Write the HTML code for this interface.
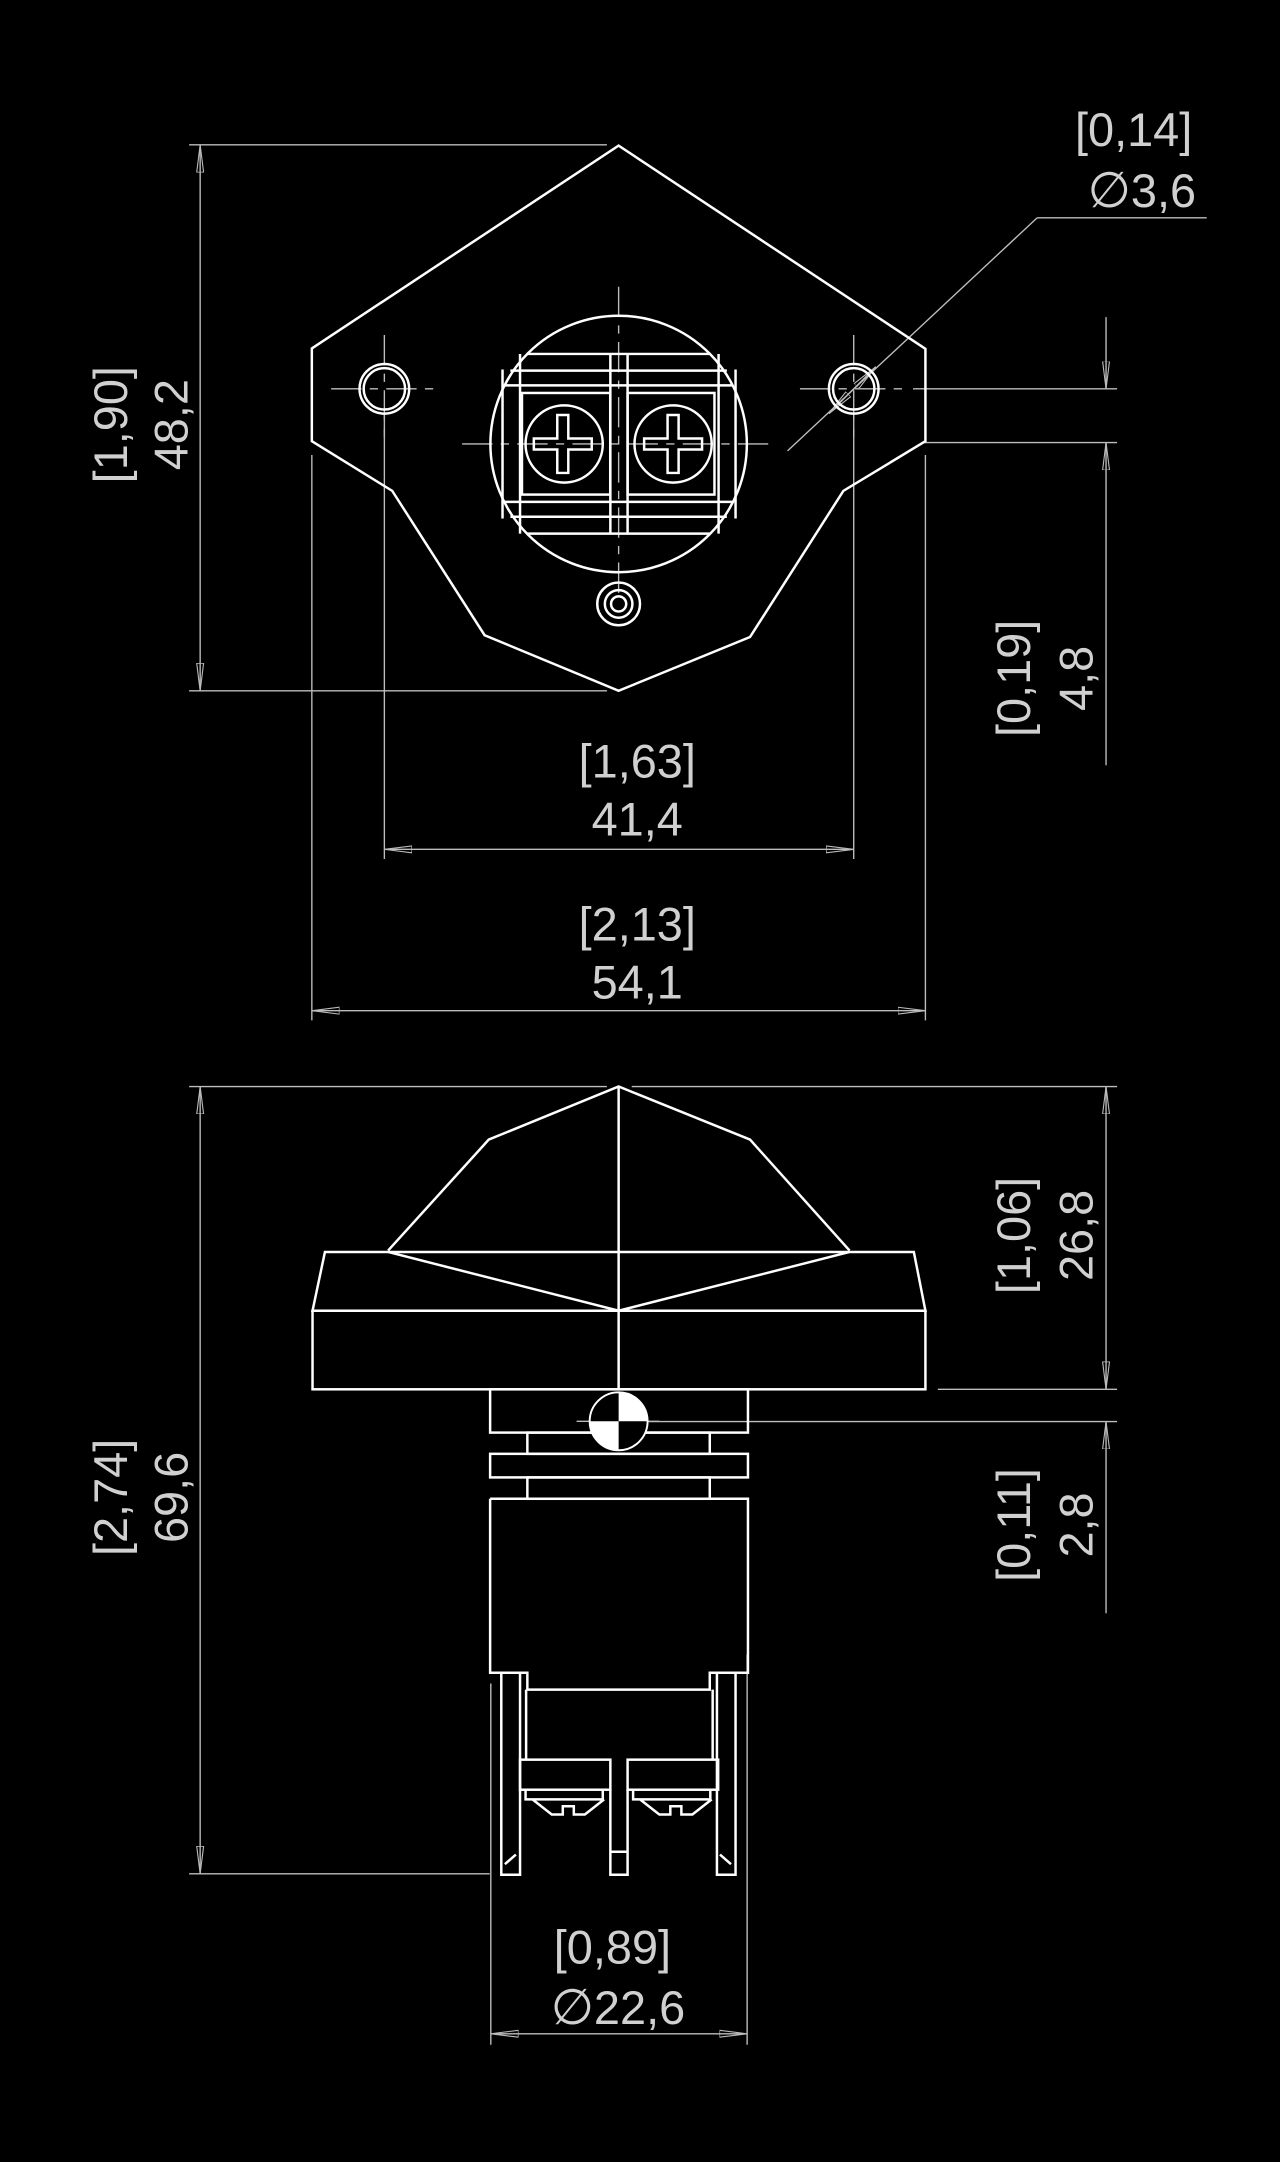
<!DOCTYPE html>
<html><head><meta charset="utf-8"><style>
html,body{margin:0;padding:0;background:#000;}
svg{display:block;}
text{font-family:"Liberation Sans","DejaVu Sans",sans-serif;fill:#d0d0d0;font-size:34px;}
</style></head><body>
<svg width="1280" height="2162" viewBox="0 0 928 1568" xmlns="http://www.w3.org/2000/svg">
<defs>
<marker id="a" viewBox="0 0 20 6" refX="20" refY="3" markerWidth="20" markerHeight="6" markerUnits="userSpaceOnUse" orient="auto-start-reverse">
<path d="M0,0.5 L20,3 L0,5.5 Z" fill="none" stroke="#bbb" stroke-width="0.8"/>
</marker>
</defs>
<rect width="928" height="1568" fill="#000"/>

<!-- ================= TOP VIEW ================= -->
<g stroke="#bdbdbd" stroke-width="1" fill="none">
 <line x1="137" y1="105" x2="440" y2="105"/>
 <line x1="137" y1="501" x2="440" y2="501"/>
 <line x1="145" y1="105" x2="145" y2="501" marker-start="url(#a)" marker-end="url(#a)"/>
 <line x1="226" y1="330" x2="226" y2="740"/>
 <line x1="671" y1="330" x2="671" y2="740"/>
 <line x1="226" y1="733" x2="671" y2="733" marker-start="url(#a)" marker-end="url(#a)"/>
 <line x1="278.6" y1="300" x2="278.6" y2="623"/>
 <line x1="619" y1="300" x2="619" y2="623"/>
 <line x1="278.6" y1="616" x2="619" y2="616" marker-start="url(#a)" marker-end="url(#a)"/>
 <line x1="662" y1="282" x2="810" y2="282"/>
 <line x1="670" y1="321" x2="810" y2="321"/>
 <line x1="802" y1="230" x2="802" y2="282" marker-end="url(#a)"/>
 <line x1="802" y1="555" x2="802" y2="321" marker-end="url(#a)"/>
 <line x1="571" y1="327" x2="752" y2="158"/>
 <line x1="752" y1="158" x2="875" y2="158"/>
 <line x1="601" y1="300" x2="635" y2="266" marker-start="url(#a)" marker-end="url(#a)"/>
 <g stroke-dasharray="22,6,6,6">
  <line x1="240" y1="282" x2="318" y2="282"/>
  <line x1="278.6" y1="243" x2="278.6" y2="321"/>
  <line x1="580" y1="282" x2="658" y2="282"/>
  <line x1="619" y1="243" x2="619" y2="321"/>
  <line x1="335" y1="322" x2="562" y2="322"/>
  <line x1="448.5" y1="208" x2="448.5" y2="435"/>
 </g>
</g>
<g stroke="#fff" stroke-width="1.8" fill="none">
 <polygon points="448.5,105.6 671,253 671,320 611.5,356 543.8,462 448.5,501 351.3,460.7 284.3,356 226,320 226,252.7"/>
 <circle cx="278.6" cy="282" r="18"/>
 <circle cx="278.6" cy="282" r="15"/>
 <circle cx="619" cy="282" r="18"/>
 <circle cx="619" cy="282" r="15"/>
 <circle cx="448.5" cy="322" r="93"/>
 <line x1="382" y1="256.7" x2="515" y2="256.7"/>
 <line x1="370" y1="268.8" x2="527" y2="268.8"/>
 <line x1="366" y1="279.5" x2="531" y2="279.5"/>
 <line x1="366" y1="364" x2="531" y2="364"/>
 <line x1="370" y1="374.8" x2="527" y2="374.8"/>
 <line x1="382" y1="387" x2="515" y2="387"/>
 <line x1="377" y1="256.7" x2="377" y2="387"/>
 <line x1="521" y1="256.7" x2="521" y2="387"/>
 <line x1="364.3" y1="268" x2="364.3" y2="376"/>
 <line x1="533.3" y1="268" x2="533.3" y2="376"/>
 <rect x="378.4" y="285" width="64" height="73.7"/>
 <rect x="455" y="285" width="63" height="73.7"/>
 <line x1="442.5" y1="256.7" x2="442.5" y2="387"/>
 <line x1="455" y1="256.7" x2="455" y2="387"/>
 <circle cx="409" cy="322" r="28"/>
 <circle cx="488" cy="322" r="28"/>
 <path d="M404,301 h8 v17 h17 v8 h-17 v17 h-8 v-17 h-17 v-8 h17 z"/>
 <path d="M484,301 h8 v17 h17 v8 h-17 v17 h-8 v-17 h-17 v-8 h17 z"/>
 <circle cx="448.5" cy="438" r="15.5"/>
 <circle cx="448.5" cy="438" r="10"/>
 <circle cx="448.5" cy="438" r="5.5"/>
</g>
<text x="462" y="564" text-anchor="middle">[1,63]</text>
<text x="462" y="606" text-anchor="middle">41,4</text>
<text x="462" y="682" text-anchor="middle">[2,13]</text>
<text x="462" y="724" text-anchor="middle">54,1</text>
<text x="822" y="106" text-anchor="middle">[0,14]</text>
<text x="828" y="150" text-anchor="middle"><tspan font-family="DejaVu Sans" font-size="36">∅</tspan>3,6</text>
<text transform="translate(92,308) rotate(-90)" text-anchor="middle">[1,90]</text>
<text transform="translate(136,308) rotate(-90)" text-anchor="middle">48,2</text>
<text transform="translate(747,492) rotate(-90)" text-anchor="middle">[0,19]</text>
<text transform="translate(792,492) rotate(-90)" text-anchor="middle">4,8</text>

<!-- ================= SIDE VIEW ================= -->
<g stroke="#bdbdbd" stroke-width="1" fill="none">
 <line x1="137" y1="788" x2="440" y2="788"/>
 <line x1="458" y1="788" x2="810" y2="788"/>
 <line x1="137" y1="1359" x2="355" y2="1359"/>
 <line x1="145" y1="788" x2="145" y2="1359" marker-start="url(#a)" marker-end="url(#a)"/>
 <line x1="680" y1="1007.6" x2="810" y2="1007.6"/>
 <line x1="470" y1="1031" x2="810" y2="1031"/>
 <line x1="802" y1="788" x2="802" y2="1007.6" marker-start="url(#a)" marker-end="url(#a)"/>
 <line x1="802" y1="1170" x2="802" y2="1031" marker-end="url(#a)"/>
 <line x1="355.8" y1="1221" x2="355.8" y2="1483"/>
 <line x1="541.7" y1="1200" x2="541.7" y2="1483"/>
 <line x1="355.8" y1="1475" x2="541.7" y2="1475" marker-start="url(#a)" marker-end="url(#a)"/>
 <line x1="418" y1="1030.8" x2="478" y2="1030.8"/>
</g>
<g stroke="#fff" stroke-width="1.8" fill="none">
 <polyline points="281.3,907 354.3,826.5 448.5,788 543.8,826.5 616,907"/>
 <polygon points="235.5,908 662.6,908 671,950.6 226.5,950.6"/>
 <polyline points="281.3,908 448.5,950.6 616,908"/>
 <rect x="226.5" y="950.6" width="444.5" height="57"/>
 <line x1="448.5" y1="788" x2="448.5" y2="1007.6"/>
 <rect x="355.3" y="1007.6" width="187" height="31.4"/>
 <rect x="382.3" y="1039" width="132.3" height="15.4"/>
 <rect x="355.3" y="1054.4" width="187" height="17.1"/>
 <rect x="382.3" y="1071.5" width="132.3" height="15.5"/>
 <polyline points="355.3,1087 542.3,1087 542.3,1213.2 514.6,1213.2 514.6,1225.4 382.3,1225.4 382.3,1213.2 355.3,1213.2 355.3,1087"/>
 <polyline points="363.4,1213.2 363.4,1359.7 377,1359.7 377,1213.2"/>
 <polyline points="519.8,1213.2 519.8,1359.7 533.3,1359.7 533.3,1213.2"/>
 <line x1="381.4" y1="1225.4" x2="381.4" y2="1276"/>
 <line x1="516.7" y1="1225.4" x2="516.7" y2="1276"/>
 <rect x="377" y="1276.2" width="65.5" height="21.8"/>
 <rect x="455" y="1276.2" width="65.7" height="21.8"/>
 <path d="M381,1298 v7 h56 v-7 M386,1305 l14,11 h8 v-6 h8 v6 h8 l14,-11"/>
 <path d="M459,1298 v7 h56 v-7 M464,1305 l14,11 h8 v-6 h8 v6 h8 l14,-11"/>
 <polyline points="442.5,1298 442.5,1359.7 455,1359.7 455,1298"/>
 <line x1="442.5" y1="1343" x2="455" y2="1343"/>
 <line x1="366" y1="1352" x2="374" y2="1345"/>
 <line x1="530" y1="1352" x2="522" y2="1345"/>
</g>
<g>
 <circle cx="448.5" cy="1030.8" r="21" fill="#000" stroke="#fff" stroke-width="1.4"/>
 <path d="M448.5,1030.8 L448.5,1009.8 A21,21 0 0,1 469.5,1030.8 Z" fill="#fff"/>
 <path d="M448.5,1030.8 L427.5,1030.8 A21,21 0 0,0 448.5,1051.8 Z" fill="#fff"/>
</g>
<text x="444" y="1424" text-anchor="middle">[0,89]</text>
<text x="448" y="1468" text-anchor="middle"><tspan font-family="DejaVu Sans" font-size="36">∅</tspan>22,6</text>
<text transform="translate(92,1086) rotate(-90)" text-anchor="middle">[2,74]</text>
<text transform="translate(136,1086) rotate(-90)" text-anchor="middle">69,6</text>
<text transform="translate(747,896) rotate(-90)" text-anchor="middle">[1,06]</text>
<text transform="translate(792,896) rotate(-90)" text-anchor="middle">26,8</text>
<text transform="translate(747,1106) rotate(-90)" text-anchor="middle">[0,11]</text>
<text transform="translate(792,1106) rotate(-90)" text-anchor="middle">2,8</text>
</svg>
</body></html>
